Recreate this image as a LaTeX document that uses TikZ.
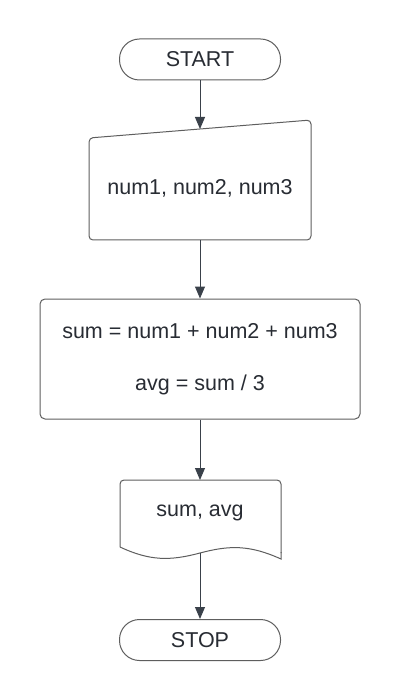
\documentclass[tikz,border=0pt]{standalone}
\usepackage{fontspec}
\setmainfont{Liberation Sans}
\usetikzlibrary{arrows.meta}
\definecolor{linec}{HTML}{3A414A}
\definecolor{shapec}{HTML}{5E5E5E}
\definecolor{textc}{HTML}{282C33}
\begin{document}
\begin{tikzpicture}[x=1pt,y=-1pt,
  every node/.style={font=\fontsize{21.5}{25}\selectfont, text=textc},
  shapeline/.style={draw=shapec, line width=1pt},
  terminal/.style={shapeline, rectangle, rounded corners=20pt, minimum width=161pt, minimum height=41pt, inner sep=0pt},
  procbox/.style={shapeline, rectangle, rounded corners=5pt, minimum width=320pt, minimum height=120pt, inner sep=0pt, align=center},
  flow/.style={draw=linec, line width=1pt, -{Triangle[width=10pt,length=12pt]}}
]
\fill[white] (0,0) rectangle (400,700);
\useasboundingbox (0,0) rectangle (400,700);

% START
\node[terminal] (start) at (200,59.5) {START};

% manual input
\draw[shapeline, rounded corners=4pt] (89,138) -- (311,120) -- (311,240) -- (89,240) -- cycle;
\node (input) at (200,188) {num1, num2, num3};
\coordinate (inTop) at (200,129);
\coordinate (inBot) at (200,240);

% process
\node[procbox] (proc) at (200,359) {sum = num1 + num2 + num3\\[27pt]avg = sum / 3};

% document
\draw[shapeline, rounded corners=4pt] (281,553) -- (281,480) -- (120,480) -- (120,547);
\draw[shapeline] (120,547) .. controls (150,561) and (170,561) .. (200,553)
  .. controls (230,545) and (250,545) .. (281,559) -- (281,552);
\node (out) at (200,513) {sum, avg};
\coordinate (outBot) at (200,553);

% STOP
\node[terminal] (stop) at (200,640) {STOP};

% connectors
\draw[flow] (start.south) -- (inTop);
\draw[flow] (inBot) -- (proc.north);
\draw[flow] (proc.south) -- (200,480) coordinate (outTop);
\draw[flow] (outBot) -- (stop.north);
\end{tikzpicture}
\end{document}
